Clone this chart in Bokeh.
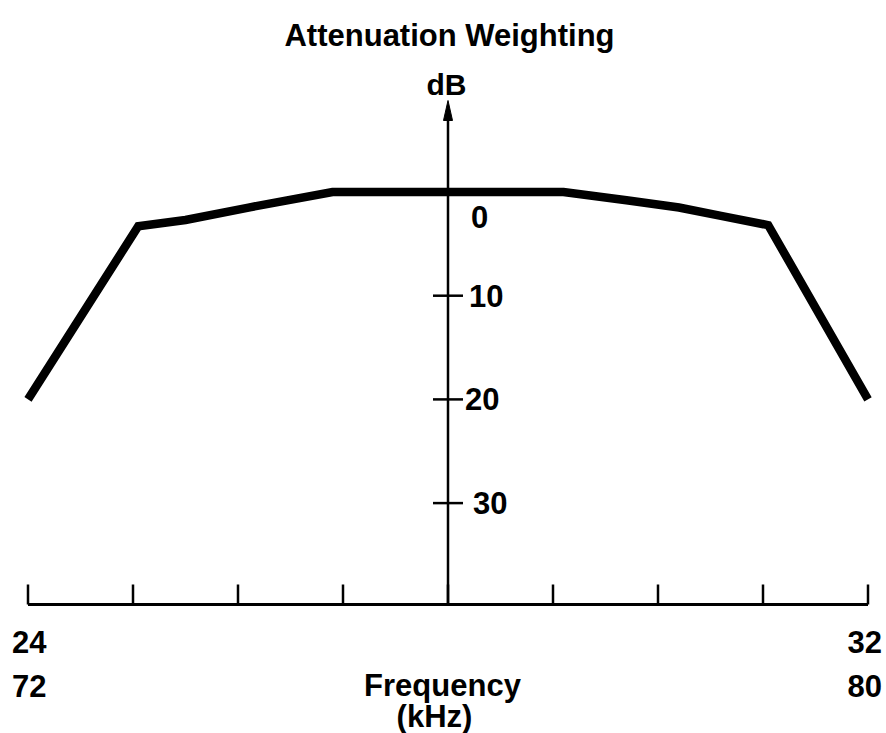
from bokeh.plotting import figure
from bokeh.models import Range1d
from bokeh.core.properties import value
from bokeh.embed import file_html
from bokeh.resources import INLINE

# ---- data ----
freq_khz = [24.0, 25.05, 25.5, 26.1, 26.9, 29.1, 29.7, 30.2, 30.6, 31.05, 32.0]
atten_db = [20.0, 3.3, 2.7, 1.5, 0.0, 0.0, 0.8, 1.5, 2.3, 3.2, 20.0]

x_ticks = [24, 25, 26, 27, 28, 29, 30, 31, 32]
db_ticks = [10, 20, 30]
db_tick_labels = ["0", "10", "20", "30"]
db_label_values = [0, 10, 20, 30]
freq_lo_labels = ["24", "32"]      # first scale (kHz)
freq_hi_labels = ["72", "80"]      # second scale (kHz)
freq_label_positions = [24, 32]

# ---- layout (reference pixel geometry) ----
W, H = 886, 733
CX_PX, PX_PER_KHZ = 447.5, 105.0
Y0_PX, PX_PER_DB = 191.5, 10.37
CENTER_KHZ = 28.0


def kx(px):
    return CENTER_KHZ + (px - CX_PX) / PX_PER_KHZ


def dy(px):
    return (px - Y0_PX) / PX_PER_DB


FONT = value("Liberation Sans")
FS = "31px"

p = figure(width=W, height=H, output_backend="svg", toolbar_location=None,
           x_range=Range1d(kx(0), kx(W)),
           y_range=Range1d(dy(H), dy(0)),
           x_axis_location=None, y_axis_location=None,
           min_border=0, background_fill_color="white",
           border_fill_color="white")
p.grid.visible = False
p.outline_line_color = None

axis_db = dy(604)
tick_len_db = 20 / PX_PER_DB
tip_db = dy(100)
arrow_len_db = 20 / PX_PER_DB
half_w = 4.5 / PX_PER_KHZ

# horizontal baseline and its ticks
p.segment(x0=[x_ticks[0]], y0=[axis_db], x1=[x_ticks[-1]], y1=[axis_db],
          line_color="black", line_width=3)
p.segment(x0=x_ticks, y0=[axis_db] * len(x_ticks), x1=x_ticks,
          y1=[axis_db - tick_len_db] * len(x_ticks),
          line_color="black", line_width=2.5)

# vertical axis with arrow
p.segment(x0=[CENTER_KHZ], y0=[axis_db], x1=[CENTER_KHZ], y1=[tip_db + arrow_len_db * 0.6],
          line_color="black", line_width=2.5)
p.patch(x=[CENTER_KHZ - half_w, CENTER_KHZ, CENTER_KHZ + half_w],
        y=[tip_db + arrow_len_db, tip_db, tip_db + arrow_len_db],
        fill_color="black", line_color="black", line_width=1)

# vertical ticks
tw = 15 / PX_PER_KHZ
p.segment(x0=[CENTER_KHZ - tw] * len(db_ticks), y0=db_ticks,
          x1=[CENTER_KHZ + tw] * len(db_ticks), y1=db_ticks,
          line_color="black", line_width=2.5)

# the weighting curve
p.line(freq_khz, atten_db, line_color="black", line_width=8.5,
       line_join="miter", line_cap="butt")

# dB labels
p.text(x=[CENTER_KHZ] * len(db_tick_labels), y=db_label_values, text=db_tick_labels,
       x_offset=[23, 21, 17, 25], y_offset=[25, 0, 0, 0],
       text_font=FONT, text_font_style="bold", text_font_size=FS, text_color="black",
       text_align="left", text_baseline="middle")

# title and units
p.text(x=[kx(449)], y=[dy(35)], text=["Attenuation Weighting"],
       text_font=FONT, text_font_style="bold", text_font_size=FS, text_color="black",
       text_align="center", text_baseline="alphabetic")
p.text(x=[kx(446)], y=[dy(84)], text=["dB"],
       text_font=FONT, text_font_style="bold", text_font_size="30px", text_color="black",
       text_align="center", text_baseline="alphabetic")

# frequency scale labels
p.text(x=freq_label_positions, y=[dy(641)] * 2, text=freq_lo_labels,
       x_offset=[-16, 14], text_font=FONT, text_font_style="bold", text_font_size=FS,
       text_color="black", text_align=["left", "right"], text_baseline="alphabetic")
p.text(x=freq_label_positions, y=[dy(685)] * 2, text=freq_hi_labels,
       x_offset=[-16, 14], text_font=FONT, text_font_style="bold", text_font_size=FS,
       text_color="black", text_align=["left", "right"], text_baseline="alphabetic")

p.text(x=[kx(442)], y=[dy(685)], text=["Frequency"],
       text_font=FONT, text_font_style="bold", text_font_size=FS, text_color="black",
       text_align="center", text_baseline="alphabetic")
p.text(x=[kx(434)], y=[dy(716)], text=["(kHz)"],
       text_font=FONT, text_font_style="bold", text_font_size=FS, text_color="black",
       text_align="center", text_baseline="alphabetic")

open("out.html", "w").write(file_html(p, INLINE))
